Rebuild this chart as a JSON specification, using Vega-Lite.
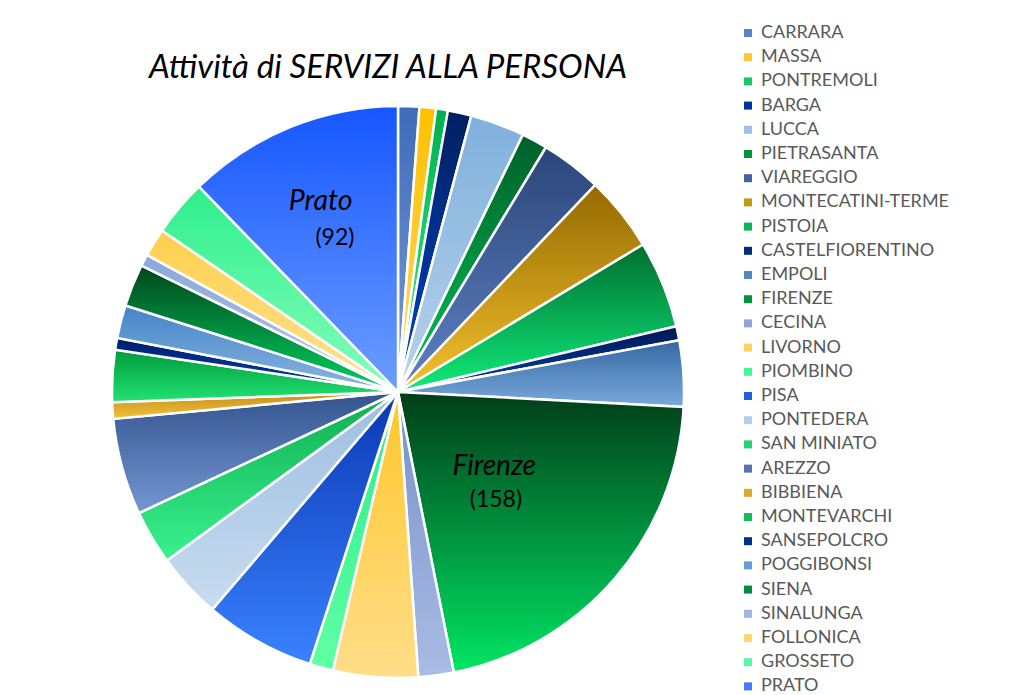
{
  "$schema": "https://vega.github.io/schema/vega-lite/v6.json",
  "width": 572,
  "height": 572,
  "autosize": {"type": "none"},
  "padding": {"left": 112, "top": 106, "right": 330, "bottom": 17},
  "background": "white",
  "title": {
    "text": "Attività di SERVIZI ALLA PERSONA",
    "font": "Lato",
    "fontStyle": "italic",
    "fontWeight": "normal",
    "fontSize": 33,
    "color": "#000000",
    "anchor": "middle",
    "frame": "group",
    "dx": -10,
    "dy": 85,
    "offset": 24
  },
  "data": {
    "values": [
      {"idx": 1, "city": "CARRARA", "n": 9},
      {"idx": 2, "city": "MASSA", "n": 7},
      {"idx": 3, "city": "PONTREMOLI", "n": 5},
      {"idx": 4, "city": "BARGA", "n": 10},
      {"idx": 5, "city": "LUCCA", "n": 23},
      {"idx": 6, "city": "PIETRASANTA", "n": 11},
      {"idx": 7, "city": "VIAREGGIO", "n": 26},
      {"idx": 8, "city": "MONTECATINI-TERME", "n": 32},
      {"idx": 9, "city": "PISTOIA", "n": 37},
      {"idx": 10, "city": "CASTELFIORENTINO", "n": 6},
      {"idx": 11, "city": "EMPOLI", "n": 28},
      {"idx": 12, "city": "FIRENZE", "n": 158},
      {"idx": 13, "city": "CECINA", "n": 15},
      {"idx": 14, "city": "LIVORNO", "n": 36},
      {"idx": 15, "city": "PIOMBINO", "n": 10},
      {"idx": 16, "city": "PISA", "n": 47},
      {"idx": 17, "city": "PONTEDERA", "n": 28},
      {"idx": 18, "city": "SAN MINIATO", "n": 23},
      {"idx": 19, "city": "AREZZO", "n": 41},
      {"idx": 20, "city": "BIBBIENA", "n": 7},
      {"idx": 21, "city": "MONTEVARCHI", "n": 22},
      {"idx": 22, "city": "SANSEPOLCRO", "n": 5},
      {"idx": 23, "city": "POGGIBONSI", "n": 14},
      {"idx": 24, "city": "SIENA", "n": 18},
      {"idx": 25, "city": "SINALUNGA", "n": 5},
      {"idx": 26, "city": "FOLLONICA", "n": 12},
      {"idx": 27, "city": "GROSSETO", "n": 24},
      {"idx": 28, "city": "PRATO", "n": 92}
    ]
  },
  "layer": [
    {
      "mark": {"type": "arc", "outerRadius": 284},
      "encoding": {
        "theta": {"field": "n", "type": "quantitative", "stack": true},
        "order": {"field": "idx", "type": "quantitative"},
        "color": {
          "field": "city",
          "type": "nominal",
          "scale": {
            "domain": ["CARRARA", "MASSA", "PONTREMOLI", "BARGA", "LUCCA", "PIETRASANTA", "VIAREGGIO", "MONTECATINI-TERME", "PISTOIA", "CASTELFIORENTINO", "EMPOLI", "FIRENZE", "CECINA", "LIVORNO", "PIOMBINO", "PISA", "PONTEDERA", "SAN MINIATO", "AREZZO", "BIBBIENA", "MONTEVARCHI", "SANSEPOLCRO", "POGGIBONSI", "SIENA", "SINALUNGA", "FOLLONICA", "GROSSETO", "PRATO"],
            "range": ["#5B82C6", "#FFC833", "#1CC767", "#0033A0", "#9CC1E4", "#009440", "#45639E", "#C4961A", "#08B855", "#002C80", "#5289C0", "#00933E", "#90A6D8", "#FFD25A", "#44F696", "#2260DA", "#B2CEE8", "#24D070", "#5475B0", "#DAA82C", "#12BE58", "#002F8E", "#679DD4", "#008C3E", "#A0B7E1", "#FFD870", "#59F7A3", "#417AFF"]
          },
          "legend": {
            "title": null,
            "orient": "none",
            "legendX": 627,
            "legendY": -82,
            "padding": 0,
            "symbolType": "square",
            "symbolSize": 64,
            "symbolStrokeWidth": 0,
            "labelFont": "Lato",
            "labelFontSize": 18,
            "labelColor": "#595959",
            "labelOffset": 4,
            "labelLimit": 300,
            "rowPadding": 6.2
          }
        }
      }
    },
    {
      "mark": {"type": "arc", "outerRadius": 286, "stroke": "white", "strokeWidth": 2.5},
      "encoding": {
        "theta": {"field": "n", "type": "quantitative", "stack": true},
        "order": {"field": "idx", "type": "quantitative"},
        "fill": {
          "condition": [
            {"test": "datum.city === 'CARRARA'", "value": {"gradient": "linear", "x1": 0, "y1": 0, "x2": 0, "y2": 1, "stops": [{"offset": 0, "color": "#3F6BB8"}, {"offset": 1, "color": "#7A9BD6"}]}},
            {"test": "datum.city === 'MASSA'", "value": {"gradient": "linear", "x1": 0, "y1": 0, "x2": 0, "y2": 1, "stops": [{"offset": 0, "color": "#FFC000"}, {"offset": 1, "color": "#FFD966"}]}},
            {"test": "datum.city === 'PONTREMOLI'", "value": {"gradient": "linear", "x1": 0, "y1": 0, "x2": 0, "y2": 1, "stops": [{"offset": 0, "color": "#00B050"}, {"offset": 1, "color": "#3AF088"}]}},
            {"test": "datum.city === 'BARGA'", "value": {"gradient": "linear", "x1": 0, "y1": 0, "x2": 0, "y2": 1, "stops": [{"offset": 0, "color": "#002060"}, {"offset": 1, "color": "#0044CC"}]}},
            {"test": "datum.city === 'LUCCA'", "value": {"gradient": "linear", "x1": 0, "y1": 0, "x2": 0, "y2": 1, "stops": [{"offset": 0, "color": "#7FB0DC"}, {"offset": 1, "color": "#B8D2EC"}]}},
            {"test": "datum.city === 'PIETRASANTA'", "value": {"gradient": "linear", "x1": 0, "y1": 0, "x2": 0, "y2": 1, "stops": [{"offset": 0, "color": "#005F2A"}, {"offset": 1, "color": "#00C456"}]}},
            {"test": "datum.city === 'VIAREGGIO'", "value": {"gradient": "linear", "x1": 0, "y1": 0, "x2": 0, "y2": 1, "stops": [{"offset": 0, "color": "#2A4578"}, {"offset": 1, "color": "#5F82C4"}]}},
            {"test": "datum.city === 'MONTECATINI-TERME'", "value": {"gradient": "linear", "x1": 0, "y1": 0, "x2": 0, "y2": 1, "stops": [{"offset": 0, "color": "#946A00"}, {"offset": 1, "color": "#F5C22E"}]}},
            {"test": "datum.city === 'PISTOIA'", "value": {"gradient": "linear", "x1": 0, "y1": 0, "x2": 0, "y2": 1, "stops": [{"offset": 0, "color": "#006E30"}, {"offset": 1, "color": "#10EC7A"}]}},
            {"test": "datum.city === 'CASTELFIORENTINO'", "value": {"gradient": "linear", "x1": 0, "y1": 0, "x2": 0, "y2": 1, "stops": [{"offset": 0, "color": "#001850"}, {"offset": 1, "color": "#0040B0"}]}},
            {"test": "datum.city === 'EMPOLI'", "value": {"gradient": "linear", "x1": 0, "y1": 0, "x2": 0, "y2": 1, "stops": [{"offset": 0, "color": "#3568A2"}, {"offset": 1, "color": "#7AAADC"}]}},
            {"test": "datum.city === 'FIRENZE'", "value": {"gradient": "linear", "x1": 0, "y1": 0, "x2": 0, "y2": 1, "stops": [{"offset": 0, "color": "#003D18"}, {"offset": 1, "color": "#00E664"}]}},
            {"test": "datum.city === 'CECINA'", "value": {"gradient": "linear", "x1": 0, "y1": 0, "x2": 0, "y2": 1, "stops": [{"offset": 0, "color": "#7890CA"}, {"offset": 1, "color": "#A8BCE4"}]}},
            {"test": "datum.city === 'LIVORNO'", "value": {"gradient": "linear", "x1": 0, "y1": 0, "x2": 0, "y2": 1, "stops": [{"offset": 0, "color": "#FFC62A"}, {"offset": 1, "color": "#FFDE8A"}]}},
            {"test": "datum.city === 'PIOMBINO'", "value": {"gradient": "linear", "x1": 0, "y1": 0, "x2": 0, "y2": 1, "stops": [{"offset": 0, "color": "#28EC88"}, {"offset": 1, "color": "#60FFA4"}]}},
            {"test": "datum.city === 'PISA'", "value": {"gradient": "linear", "x1": 0, "y1": 0, "x2": 0, "y2": 1, "stops": [{"offset": 0, "color": "#0A38B4"}, {"offset": 1, "color": "#3A82FF"}]}},
            {"test": "datum.city === 'PONTEDERA'", "value": {"gradient": "linear", "x1": 0, "y1": 0, "x2": 0, "y2": 1, "stops": [{"offset": 0, "color": "#9CBEE0"}, {"offset": 1, "color": "#C8DCF0"}]}},
            {"test": "datum.city === 'SAN MINIATO'", "value": {"gradient": "linear", "x1": 0, "y1": 0, "x2": 0, "y2": 1, "stops": [{"offset": 0, "color": "#0EAE4E"}, {"offset": 1, "color": "#3AF290"}]}},
            {"test": "datum.city === 'AREZZO'", "value": {"gradient": "linear", "x1": 0, "y1": 0, "x2": 0, "y2": 1, "stops": [{"offset": 0, "color": "#33548E"}, {"offset": 1, "color": "#7496D2"}]}},
            {"test": "datum.city === 'BIBBIENA'", "value": {"gradient": "linear", "x1": 0, "y1": 0, "x2": 0, "y2": 1, "stops": [{"offset": 0, "color": "#C48C18"}, {"offset": 1, "color": "#F2C240"}]}},
            {"test": "datum.city === 'MONTEVARCHI'", "value": {"gradient": "linear", "x1": 0, "y1": 0, "x2": 0, "y2": 1, "stops": [{"offset": 0, "color": "#009A3E"}, {"offset": 1, "color": "#22E272"}]}},
            {"test": "datum.city === 'SANSEPOLCRO'", "value": {"gradient": "linear", "x1": 0, "y1": 0, "x2": 0, "y2": 1, "stops": [{"offset": 0, "color": "#001E6C"}, {"offset": 1, "color": "#0040B0"}]}},
            {"test": "datum.city === 'POGGIBONSI'", "value": {"gradient": "linear", "x1": 0, "y1": 0, "x2": 0, "y2": 1, "stops": [{"offset": 0, "color": "#4584C6"}, {"offset": 1, "color": "#8AB6E2"}]}},
            {"test": "datum.city === 'SIENA'", "value": {"gradient": "linear", "x1": 0, "y1": 0, "x2": 0, "y2": 1, "stops": [{"offset": 0, "color": "#00461A"}, {"offset": 1, "color": "#00D262"}]}},
            {"test": "datum.city === 'SINALUNGA'", "value": {"gradient": "linear", "x1": 0, "y1": 0, "x2": 0, "y2": 1, "stops": [{"offset": 0, "color": "#8CA8D8"}, {"offset": 1, "color": "#B2C6EA"}]}},
            {"test": "datum.city === 'FOLLONICA'", "value": {"gradient": "linear", "x1": 0, "y1": 0, "x2": 0, "y2": 1, "stops": [{"offset": 0, "color": "#FFCF4C"}, {"offset": 1, "color": "#FFE294"}]}},
            {"test": "datum.city === 'GROSSETO'", "value": {"gradient": "linear", "x1": 0, "y1": 0, "x2": 0, "y2": 1, "stops": [{"offset": 0, "color": "#2EEE8C"}, {"offset": 1, "color": "#84FFBA"}]}},
            {"test": "datum.city === 'PRATO'", "value": {"gradient": "linear", "x1": 0, "y1": 0, "x2": 0, "y2": 1, "stops": [{"offset": 0, "color": "#1656FF"}, {"offset": 1, "color": "#6C9EFF"}]}}
          ],
          "value": "#CCCCCC"
        }
      }
    },
    {
      "mark": {"type": "text", "radius": 206, "font": "Lato", "fontStyle": "italic", "fontSize": 28.5, "color": "#000000"},
      "encoding": {
        "theta": {"field": "n", "type": "quantitative", "stack": true},
        "order": {"field": "idx", "type": "quantitative"},
        "text": {"condition": {"test": "datum.city === 'PRATO'", "value": "Prato"}, "value": ""}
      }
    },
    {
      "mark": {"type": "text", "radius": 168, "dy": 2, "font": "Lato", "fontSize": 23, "color": "#000000"},
      "encoding": {
        "theta": {"field": "n", "type": "quantitative", "stack": true},
        "order": {"field": "idx", "type": "quantitative"},
        "text": {"condition": {"test": "datum.city === 'PRATO'", "value": "(92)"}, "value": ""}
      }
    },
    {
      "mark": {"type": "text", "radius": 122, "dx": 4, "dy": -5, "font": "Lato", "fontStyle": "italic", "fontSize": 28, "color": "#000000"},
      "encoding": {
        "theta": {"field": "n", "type": "quantitative", "stack": true},
        "order": {"field": "idx", "type": "quantitative"},
        "text": {"condition": {"test": "datum.city === 'FIRENZE'", "value": "Firenze"}, "value": ""}
      }
    },
    {
      "mark": {"type": "text", "radius": 144, "dx": -11, "dy": 14, "font": "Lato", "fontSize": 23, "color": "#000000"},
      "encoding": {
        "theta": {"field": "n", "type": "quantitative", "stack": true},
        "order": {"field": "idx", "type": "quantitative"},
        "text": {"condition": {"test": "datum.city === 'FIRENZE'", "value": "(158)"}, "value": ""}
      }
    }
  ],
  "config": {"view": {"stroke": null}}
}
